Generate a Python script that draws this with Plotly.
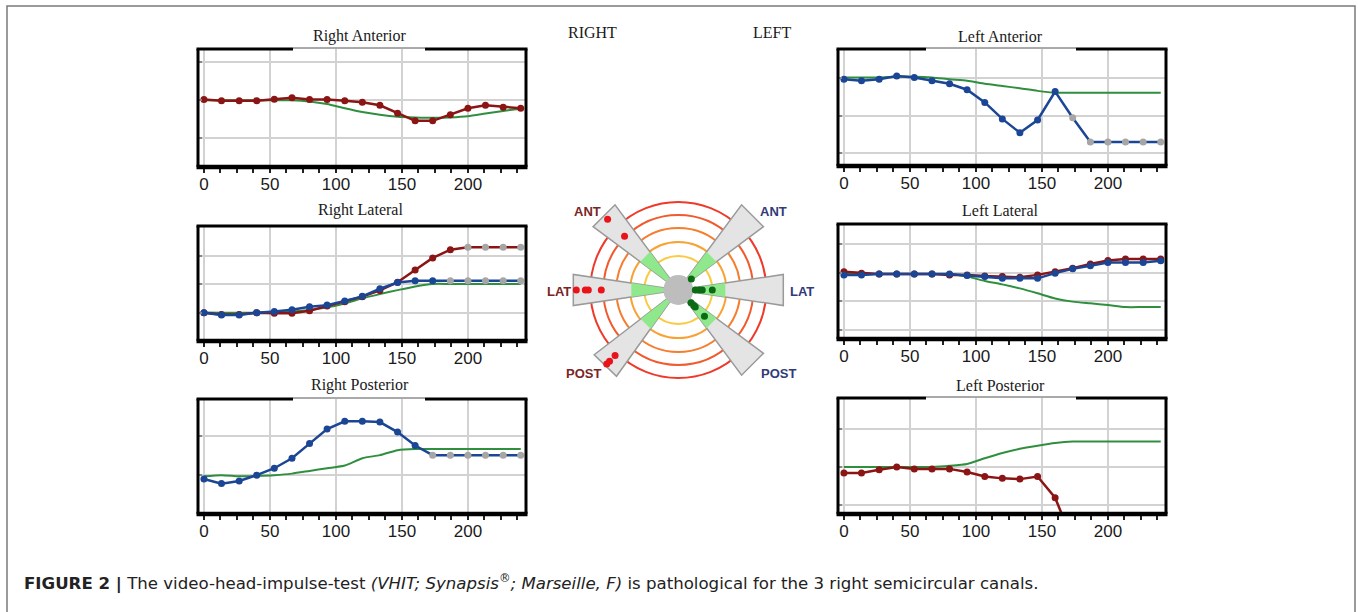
import numpy as np
import plotly.graph_objects as go

W, H = 1358, 612

# ---------------- data ----------------
t_ms = [0, 13.3, 26.7, 40, 53.3, 66.7, 80, 93.3, 106.7, 120, 133.3, 146.7,
        160, 173.3, 186.7, 200, 213.3, 226.7, 240]
x_tick_vals = [0, 50, 100, 150, 200]
panel_titles = ["Right Anterior", "Right Lateral", "Right Posterior",
                "Left Anterior", "Left Lateral", "Left Posterior"]

# Right Anterior
ra_head = [1.98, 1.98, 1.98, 1.98, 1.98, 1.98, 1.95, 1.88, 1.77, 1.67, 1.60, 1.55,
           1.53, 1.52, 1.53, 1.56, 1.63, 1.70, 1.76]
ra_red = [2.00, 1.97, 1.97, 1.97, 2.01, 2.05, 2.00, 2.00, 1.97, 1.93, 1.85, 1.64,
          1.44, 1.44, 1.60, 1.77, 1.85, 1.80, 1.77]
# Right Lateral
rl_head = [1.01, 1.00, 1.00, 1.00, 1.00, 1.04, 1.10, 1.19, 1.33, 1.51, 1.66, 1.80,
           1.93, 2.02, 2.02, 2.02, 2.02, 2.02, 2.02]
rl_red = [1.00, 0.94, 0.94, 1.00, 0.98, 0.98, 1.07, 1.24, 1.39, 1.57, 1.79, 2.08,
          2.51, 2.94, 3.23, 3.32, 3.32, 3.32, 3.32]
rl_blue = [1.00, 0.92, 0.92, 1.00, 1.04, 1.11, 1.21, 1.27, 1.42, 1.58, 1.85, 2.07,
           2.13, 2.13, 2.13, 2.13, 2.13, 2.13, 2.13]
# Right Posterior
rp_head = [0.96, 0.99, 0.96, 0.97, 0.99, 1.03, 1.10, 1.17, 1.24, 1.43, 1.51, 1.64,
           1.67, 1.67, 1.67, 1.67, 1.67, 1.67, 1.67]
rp_blue = [0.89, 0.77, 0.84, 0.99, 1.17, 1.43, 1.81, 2.19, 2.39, 2.39, 2.37, 2.11,
           1.76, 1.51, 1.51, 1.51, 1.51, 1.51, 1.51]
# Left Anterior
la_head = [3.02, 3.02, 3.02, 3.04, 3.04, 3.02, 2.97, 2.93, 2.85, 2.79, 2.73, 2.66,
           2.61, 2.61, 2.61, 2.61, 2.61, 2.61, 2.61]
la_blue = [2.97, 2.93, 2.97, 3.06, 3.02, 2.93, 2.85, 2.69, 2.35, 1.91, 1.54, 1.88,
           2.64, 1.94, 1.29, 1.29, 1.29, 1.29, 1.29]
# Left Lateral
ll_head = [1.95, 1.95, 1.95, 1.95, 1.95, 1.95, 1.95, 1.86, 1.71, 1.59, 1.45, 1.28,
           1.10, 0.99, 0.93, 0.87, 0.80, 0.80, 0.80]
ll_red = [2.03, 1.98, 1.95, 1.95, 1.95, 1.95, 1.92, 1.92, 1.88, 1.86, 1.84, 1.92,
          2.03, 2.15, 2.30, 2.42, 2.47, 2.47, 2.47]
ll_blue = [1.92, 1.92, 1.95, 1.95, 1.95, 1.95, 1.95, 1.90, 1.86, 1.80, 1.80, 1.80,
           1.98, 2.13, 2.24, 2.35, 2.35, 2.35, 2.41]
# Left Posterior
lp_head = [1.00, 1.00, 1.00, 1.00, 1.00, 1.00, 1.03, 1.08, 1.23, 1.37, 1.48, 1.56,
           1.63, 1.67, 1.67, 1.67, 1.67, 1.67, 1.67]
lp_red = [0.84, 0.84, 0.93, 1.00, 0.95, 0.95, 0.95, 0.87, 0.75, 0.70, 0.68, 0.75,
          0.19, -0.95]

# index from which samples are flagged (grey markers)
rl_red_flag = 15
rl_blue_flag = 14
rp_blue_flag = 13
la_blue_flag = 13

# polar diagram: canal name, angle (deg), radial positions of dots
polar_labels = ["ANT", "LAT", "POST", "ANT", "LAT", "POST"]
polar_angles = [135, 180, 226, 45, 0, 315]
right_ant_r = [100, 76]
right_lat_r = [102, 93, 90, 77]
right_post_r = [103, 99, 91]
left_ant_r = [17]
left_lat_r = [17, 21, 24, 34]
left_post_r = [18, 22, 24, 37]
left_ant_angle = 40
ring_radii = [88, 75, 62, 48, 34]

caption = ("<b>FIGURE 2 |</b> The video-head-impulse-test <i>(VHIT; Synapsis</i>"
           "<sup>®</sup><i>; Marseille, F)</i> is pathological for the 3 right "
           "semicircular canals.")

# ---------------- style ----------------
GREEN = "#2f8f3e"
RED = "#8b1414"
BLUE = "#1b4595"
GREY = "#a6a6a6"

def px(x):
    return x / W

def py(y):
    return 1 - y / H

panels = [
    dict(box=(198, 49, 526, 167), yr=[0.225, 3.33], grid=[1, 2, 3], gap=(293, 425),
         head=ra_head, red=ra_red, redflag=None, blue=None, blueflag=None, title_y=36),
    dict(box=(198, 226, 526, 341), yr=[0.0, 4.07], grid=[1, 2, 3], gap=None,
         head=rl_head, red=rl_red, redflag=rl_red_flag, blue=rl_blue, blueflag=rl_blue_flag, title_y=210),
    dict(box=(198, 399, 526, 514), yr=[-0.02, 2.97], grid=[1, 2], gap=(293, 425),
         head=rp_head, red=None, redflag=None, blue=rp_blue, blueflag=rp_blue_flag, title_y=385),
    dict(box=(838, 49, 1166, 166), yr=[0.65, 3.78], grid=[1, 2, 3], gap=(926, 1076),
         head=la_head, red=None, redflag=None, blue=la_blue, blueflag=la_blue_flag, title_y=36),
    dict(box=(838, 224, 1166, 339), yr=[-0.31, 3.69], grid=[0, 1, 2, 3], gap=None,
         head=ll_head, red=ll_red, redflag=None, blue=ll_blue, blueflag=None, title_y=210),
    dict(box=(838, 398, 1166, 514), yr=[-0.24, 2.82], grid=[0, 1, 2], gap=(926, 1076),
         head=lp_head, red=lp_red, redflag=None, blue=None, blueflag=None, title_y=385),
]

fig = go.Figure()
shapes = []
annotations = []
layout_axes = {}

def marker_colors(vals, col, flag):
    return [col if (flag is None or i < flag) else GREY for i in range(len(vals))]

for k, p in enumerate(panels):
    n = k + 1
    xa = "x" if n == 1 else f"x{n}"
    ya = "y" if n == 1 else f"y{n}"
    x0, y0, x1, y1 = p["box"]
    fig.add_trace(go.Scatter(x=t_ms, y=p["head"], mode="lines", line=dict(color=GREEN, width=2, shape="spline", smoothing=0.6),
                             xaxis=xa, yaxis=ya, showlegend=False, hoverinfo="skip"))
    for key, col, fkey in (("red", RED, "redflag"), ("blue", BLUE, "blueflag")):
        vals = p[key]
        if vals is None:
            continue
        fig.add_trace(go.Scatter(x=t_ms[:len(vals)], y=vals, mode="lines+markers",
                                 line=dict(color=col, width=2.5),
                                 marker=dict(size=7, color=marker_colors(vals, col, p[fkey])),
                                 xaxis=xa, yaxis=ya, showlegend=False, hoverinfo="skip"))
    xname = "xaxis" if n == 1 else f"xaxis{n}"
    yname = "yaxis" if n == 1 else f"yaxis{n}"
    layout_axes[xname] = dict(domain=[px(x0), px(x1)], anchor=ya, range=[-4.5, 244],
                              tickmode="array", tickvals=x_tick_vals,
                              ticks="outside", ticklen=5, tickwidth=1.5, tickcolor="#222",
                              ticklabelstandoff=-3,
                              minor=dict(tickmode="linear", tick0=0, dtick=12.5, ticks="outside",
                                         ticklen=5, tickwidth=1.5, tickcolor="#222", showgrid=False),
                              showgrid=True, gridcolor="#d2d2d2", gridwidth=2,
                              zeroline=False, showline=False,
                              tickfont=dict(family="Liberation Sans, Arial", size=17, color="#1a1a1a"),
                              fixedrange=True)
    layout_axes[yname] = dict(domain=[py(y1), py(y0)], anchor=xa, range=p["yr"],
                              tickmode="array", tickvals=p["grid"], showticklabels=False,
                              ticks="inside", ticklen=4, tickcolor="#888", tickwidth=1.5,
                              showgrid=True, gridcolor="#d2d2d2", gridwidth=2,
                              zeroline=False, showline=False, fixedrange=True)
    # frame
    lw = 3
    shapes.append(dict(type="line", xref="paper", yref="paper", x0=px(x0), x1=px(x0), y0=py(y0), y1=py(y1),
                       line=dict(color="black", width=lw), layer="above"))
    shapes.append(dict(type="line", xref="paper", yref="paper", x0=px(x1), x1=px(x1), y0=py(y0), y1=py(y1),
                       line=dict(color="black", width=lw), layer="above"))
    shapes.append(dict(type="line", xref="paper", yref="paper", x0=px(x0 - 1.5), x1=px(x1 + 1.5), y0=py(y1), y1=py(y1),
                       line=dict(color="black", width=4.5), layer="above"))
    if p["gap"] is None:
        shapes.append(dict(type="line", xref="paper", yref="paper", x0=px(x0 - 1.5), x1=px(x1 + 1.5), y0=py(y0), y1=py(y0),
                           line=dict(color="black", width=lw), layer="above"))
    else:
        g0, g1 = p["gap"]
        shapes.append(dict(type="line", xref="paper", yref="paper", x0=px(x0 - 1.5), x1=px(g0), y0=py(y0), y1=py(y0),
                           line=dict(color="black", width=lw), layer="above"))
        shapes.append(dict(type="line", xref="paper", yref="paper", x0=px(g1), x1=px(x1 + 1.5), y0=py(y0), y1=py(y0),
                           line=dict(color="black", width=lw), layer="above"))
        shapes.append(dict(type="line", xref="paper", yref="paper", x0=px(g0), x1=px(g1), y0=py(y0 - 1), y1=py(y0 - 1),
                           line=dict(color="#555", width=1), layer="above"))
    annotations.append(dict(text=panel_titles[k], xref="paper", yref="paper", x=px((x0 + x1) / 2 - 2), y=py(p["title_y"]),
                            xanchor="center", yanchor="middle", showarrow=False,
                            font=dict(family="Liberation Serif, Times New Roman", size=16, color="#1a1a1a")))

# ---------------- polar diagram ----------------
CX, CY = 678.3, 290
dom_x = (548, 812)
dom_y = (180, 400)
layout_axes["xaxis7"] = dict(domain=[px(dom_x[0]), px(dom_x[1])], anchor="y7",
                             range=[dom_x[0] - CX, dom_x[1] - CX], visible=False, fixedrange=True)
layout_axes["yaxis7"] = dict(domain=[py(dom_y[1]), py(dom_y[0])], anchor="x7",
                             range=[CY - dom_y[1], CY - dom_y[0]], visible=False, fixedrange=True)

ring_colors = ["#ee3a2a", "#f15a2c", "#f57d2e", "#f8a236", "#f9cb45"]
for r, c in zip(ring_radii, ring_colors):
    shapes.append(dict(type="circle", xref="x7", yref="y7", x0=-r, x1=r, y0=-r, y1=r,
                       line=dict(color=c, width=2), layer="below"))

HALF = np.radians(8.4)
R_OUT = 105
R_G0, R_G1 = 14, 47

def wedge_path(theta_deg, r_in, r_out):
    th = np.radians(theta_deg)
    d_out = r_out / np.cos(HALF)
    d_in = r_in / np.cos(HALF)
    p1 = (d_in * np.cos(th - HALF), d_in * np.sin(th - HALF))
    p2 = (d_out * np.cos(th - HALF), d_out * np.sin(th - HALF))
    p3 = (d_out * np.cos(th + HALF), d_out * np.sin(th + HALF))
    p4 = (d_in * np.cos(th + HALF), d_in * np.sin(th + HALF))
    return "M {:.2f},{:.2f} L {:.2f},{:.2f} L {:.2f},{:.2f} L {:.2f},{:.2f} Z".format(*p1, *p2, *p3, *p4)

for ang in polar_angles:
    shapes.append(dict(type="path", xref="x7", yref="y7", path=wedge_path(ang, 0.01, R_OUT),
                       fillcolor="#e4e4e4", line=dict(color="#9a9a9a", width=1.5), layer="below"))
for ang in polar_angles:
    shapes.append(dict(type="path", xref="x7", yref="y7", path=wedge_path(ang, R_G0, R_G1),
                       fillcolor="#8fe88c", line=dict(width=0), layer="below"))
shapes.append(dict(type="circle", xref="x7", yref="y7", x0=-15, x1=15, y0=-15, y1=15,
                   fillcolor="#bdbdbd", line=dict(width=0), layer="below"))

def dots(rs, ang):
    a = np.radians(ang)
    return [r * np.cos(a) for r in rs], [r * np.sin(a) for r in rs]

for rs, ang in ((right_ant_r, polar_angles[0]), (right_lat_r, polar_angles[1]), (right_post_r, polar_angles[2])):
    xs, ys = dots(rs, ang)
    fig.add_trace(go.Scatter(x=xs, y=ys, mode="markers", marker=dict(size=7, color="#e8141a"),
                             xaxis="x7", yaxis="y7", showlegend=False, hoverinfo="skip", cliponaxis=False))
for rs, ang in ((left_ant_r, left_ant_angle), (left_lat_r, polar_angles[4]), (left_post_r, polar_angles[5])):
    xs, ys = dots(rs, ang)
    fig.add_trace(go.Scatter(x=xs, y=ys, mode="markers", marker=dict(size=7, color="#0b6b12"),
                             xaxis="x7", yaxis="y7", showlegend=False, hoverinfo="skip", cliponaxis=False))

label_pos = [(587, 211), (559, 291), (583, 373), (773, 211), (802, 291), (778, 373)]
label_cols = ["#7a2626", "#7a2626", "#7a2626", "#323a78", "#323a78", "#323a78"]
for lab, (lx, ly), lc in zip(polar_labels, label_pos, label_cols):
    annotations.append(dict(text=f"<b>{lab}</b>", xref="paper", yref="paper", x=px(lx), y=py(ly),
                            xanchor="center", yanchor="middle", showarrow=False,
                            font=dict(family="Liberation Sans, Arial", size=13, color=lc)))

annotations.append(dict(text="RIGHT", xref="paper", yref="paper", x=px(592), y=py(32), showarrow=False,
                        xanchor="center", yanchor="middle",
                        font=dict(family="Liberation Serif, Times New Roman", size=16, color="#1a1a1a")))
annotations.append(dict(text="LEFT", xref="paper", yref="paper", x=px(772), y=py(32), showarrow=False,
                        xanchor="center", yanchor="middle",
                        font=dict(family="Liberation Serif, Times New Roman", size=16, color="#1a1a1a")))
annotations.append(dict(text=caption, xref="paper", yref="paper", x=px(22), y=py(582), showarrow=False,
                        xanchor="left", yanchor="middle",
                        font=dict(family="DejaVu Sans", size=16.6, color="#222")))

# outer border
shapes.append(dict(type="rect", xref="paper", yref="paper", x0=px(7), x1=px(1355), y0=py(6), y1=py(640),
                   line=dict(color="#7a7a7a", width=1.5), layer="above"))

fig.update_layout(width=W, height=H, margin=dict(l=0, r=0, t=0, b=0),
                  paper_bgcolor="white", plot_bgcolor="white",
                  shapes=shapes, annotations=annotations, **layout_axes)
fig.write_html("out.html", config={"displayModeBar": False},
               post_script="document.body.style.margin='0px';document.body.style.overflow='hidden';")
